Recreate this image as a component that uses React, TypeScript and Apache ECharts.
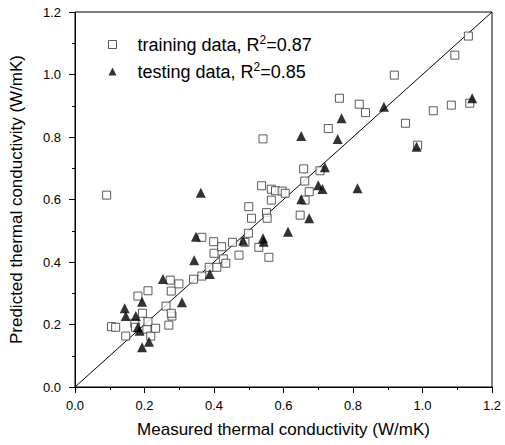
import React, { useEffect, useRef } from "react";
import * as echarts from "echarts";

const trainingData: number[][] = [
  [0.091, 0.614], [0.105, 0.193], [0.117, 0.191], [0.146, 0.163], [0.172, 0.204],
  [0.174, 0.191], [0.181, 0.291], [0.194, 0.236], [0.207, 0.185], [0.21, 0.308],
  [0.21, 0.209], [0.218, 0.163], [0.232, 0.188], [0.262, 0.259], [0.27, 0.198],
  [0.274, 0.342], [0.277, 0.307], [0.279, 0.227], [0.277, 0.236], [0.299, 0.33],
  [0.341, 0.345], [0.365, 0.355], [0.365, 0.479], [0.386, 0.383], [0.399, 0.465],
  [0.4, 0.428], [0.408, 0.383], [0.422, 0.449], [0.427, 0.41], [0.434, 0.396],
  [0.453, 0.463], [0.472, 0.422], [0.489, 0.463], [0.499, 0.492], [0.5, 0.577],
  [0.508, 0.54], [0.529, 0.447], [0.537, 0.644], [0.541, 0.794], [0.551, 0.558],
  [0.553, 0.54], [0.558, 0.415], [0.565, 0.633], [0.565, 0.598], [0.577, 0.628],
  [0.596, 0.627], [0.605, 0.62], [0.648, 0.55], [0.658, 0.698], [0.661, 0.659],
  [0.662, 0.598], [0.674, 0.625], [0.705, 0.692], [0.729, 0.827], [0.761, 0.924],
  [0.818, 0.905], [0.836, 0.878], [0.919, 0.998], [0.951, 0.844], [0.986, 0.774],
  [1.031, 0.884], [1.083, 0.902], [1.093, 1.062], [1.136, 0.908], [1.132, 1.123],
];

const testingData: number[][] = [
  [0.143, 0.252], [0.146, 0.227], [0.175, 0.227], [0.181, 0.191], [0.186, 0.18],
  [0.193, 0.273], [0.193, 0.127], [0.213, 0.145], [0.253, 0.346], [0.308, 0.271],
  [0.343, 0.406], [0.348, 0.481], [0.362, 0.622], [0.388, 0.362], [0.484, 0.468],
  [0.541, 0.476], [0.543, 0.465], [0.613, 0.497], [0.651, 0.803], [0.651, 0.601],
  [0.674, 0.54], [0.7, 0.646], [0.712, 0.634], [0.719, 0.703], [0.756, 0.794],
  [0.767, 0.86], [0.813, 0.636], [0.889, 0.897], [0.983, 0.769], [1.143, 0.924],
];

const identityLine: number[][] = [[0, 0], [1.2, 1.2]];

const seriesNames = ["training", "testing"];
const legendLabels: Record<string, string> = {
  training: "training data, R{sup|2}=0.87",
  testing: "testing data, R{sup|2}=0.85",
};

const FONT = "'Liberation Sans', Arial, sans-serif";

export default function App() {
  const ref = useRef<HTMLDivElement>(null);
  useEffect(() => {
    document.body.style.margin = "0";
    if (!ref.current) return;
    const chart = echarts.init(ref.current, undefined, { renderer: "svg" });
    const axisCommon = {
      min: 0,
      max: 1.2,
      interval: 0.2,
      nameLocation: "middle" as const,
      nameTextStyle: { fontSize: 17, color: "#000", fontFamily: FONT },
      axisLine: { show: true, lineStyle: { color: "#000", width: 1 } },
      axisTick: { show: true, inside: false, length: 6, lineStyle: { color: "#000" } },
      minorTick: { show: true, splitNumber: 2, length: 3, lineStyle: { color: "#000" } },
      splitLine: { show: false },
      axisLabel: {
        fontSize: 13,
        color: "#000",
        fontFamily: FONT,
        formatter: (v: number) => v.toFixed(1),
      },
    };
    chart.setOption({
      animation: false,
      backgroundColor: "#fff",
      textStyle: { fontFamily: FONT },
      grid: {
        left: 71.5,
        right: 13,
        top: 12,
        bottom: 58,
        show: true,
        borderColor: "#000",
        borderWidth: 1,
      },
      legend: {
        data: seriesNames,
        orient: "vertical",
        left: 103,
        top: 29,
        itemWidth: 8,
        itemHeight: 8,
        itemGap: 6,
        formatter: (name: string) => legendLabels[name],
        itemStyle: { borderWidth: 1 },
        textStyle: {
          fontSize: 18,
          color: "#000",
          fontFamily: FONT,
          lineHeight: 21,
          padding: [0, 0, 0, 16],
          rich: {
            sup: {
              fontSize: 12,
              verticalAlign: "top",
              lineHeight: 12,
              padding: [0, 0, 5, 0],
              color: "#000",
              fontFamily: FONT,
            },
          },
        },
      },
      xAxis: {
        ...axisCommon,
        type: "value",
        name: "Measured thermal conductivity (W/mK)",
        nameGap: 34,
        axisLabel: { ...axisCommon.axisLabel, margin: 12 },
      },
      yAxis: {
        ...axisCommon,
        type: "value",
        name: "Predicted thermal conductivity (W/mK)",
        nameGap: 50,
        axisLabel: { ...axisCommon.axisLabel, margin: 14 },
      },
      series: [
        {
          name: "identity",
          type: "line",
          data: identityLine,
          showSymbol: false,
          symbol: "none",
          silent: true,
          lineStyle: { color: "#000", width: 1 },
          z: 1,
        },
        {
          name: "training",
          type: "scatter",
          data: trainingData,
          symbol: "rect",
          symbolSize: 8,
          itemStyle: { color: "#fff", borderColor: "#333", borderWidth: 1 },
          z: 2,
        },
        {
          name: "testing",
          type: "scatter",
          data: testingData,
          symbol: "triangle",
          symbolSize: 10,
          itemStyle: { color: "#000" },
          z: 3,
        },
      ],
    });
    return () => chart.dispose();
  }, []);
  return <div ref={ref} style={{ width: 505, height: 445 }} />;
}
